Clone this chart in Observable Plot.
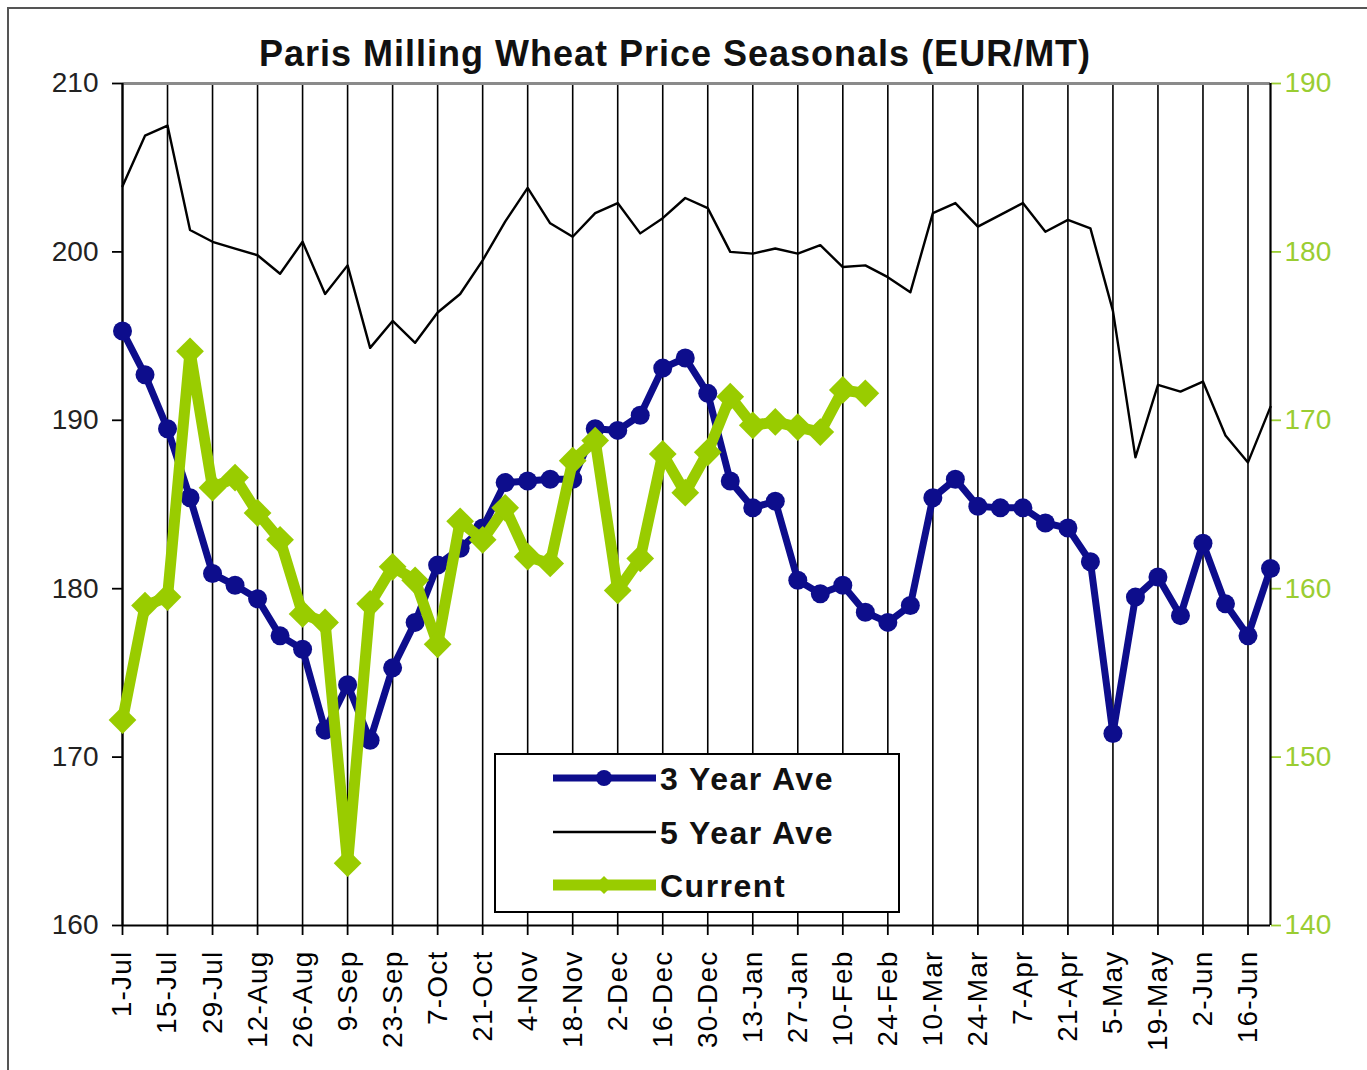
<!DOCTYPE html>
<html><head><meta charset="utf-8">
<script src="https://cdn.jsdelivr.net/npm/d3@7"></script>
<script src="https://cdn.jsdelivr.net/npm/@observablehq/plot@0.6"></script>
<style>
body{margin:0;background:#fff;font-family:"Liberation Sans",Arial,sans-serif;}
#wrap{position:relative;width:1367px;height:1070px;overflow:hidden;background:#fff;}
#frame{position:absolute;left:7px;top:7px;width:1400px;height:1100px;border-top:2px solid #555;border-left:2px solid #555;}
#title{position:absolute;left:0;width:1350px;top:33px;text-align:center;font-weight:bold;font-size:36px;letter-spacing:1px;color:#111;}
#chart{position:absolute;left:0;top:0;}
#legend{position:absolute;left:494px;top:753px;width:402px;height:156px;border:2px solid #000;background:#fff;}
#chart svg g[aria-label="x-axis tick label"] text{letter-spacing:1.2px;}
</style></head><body>
<div id="wrap"><div id="frame"></div><div id="chart"></div><div id="title">Paris Milling Wheat Price Seasonals (EUR/MT)</div><div id="legend"></div></div>
<script>
const weekLabels = ["1-Jul","15-Jul","29-Jul","12-Aug","26-Aug","9-Sep","23-Sep","7-Oct","21-Oct","4-Nov","18-Nov","2-Dec","16-Dec","30-Dec","13-Jan","27-Jan","10-Feb","24-Feb","10-Mar","24-Mar","7-Apr","21-Apr","5-May","19-May","2-Jun","16-Jun"];
const threeYear = [195.3,192.7,189.5,185.4,180.9,180.2,179.4,177.2,176.4,171.6,174.3,171.0,175.3,178.0,181.4,182.4,183.6,186.3,186.4,186.5,186.5,189.5,189.4,190.3,193.1,193.7,191.6,186.4,184.8,185.2,180.5,179.7,180.2,178.6,178.0,179.0,185.4,186.5,184.9,184.8,184.8,183.9,183.6,181.6,171.4,179.5,180.7,178.4,182.7,179.1,177.2,181.2];
const fiveYear = [203.9,206.9,207.5,201.3,200.6,200.2,199.8,198.7,200.6,197.5,199.2,194.3,195.9,194.6,196.4,197.5,199.5,201.8,203.8,201.7,200.9,202.3,202.9,201.1,202.0,203.2,202.6,200.0,199.9,200.2,199.9,200.4,199.1,199.2,198.5,197.6,202.3,202.9,201.5,202.2,202.9,201.2,201.9,201.4,196.5,187.8,192.1,191.7,192.3,189.1,187.5,190.8];
const current = [152.2,159.0,159.5,174.1,166.0,166.6,164.5,162.9,158.5,158.0,143.7,159.1,161.3,160.5,156.7,164.0,162.9,164.8,161.9,161.5,167.6,168.8,159.9,161.8,168.0,165.7,168.1,171.4,169.7,169.9,169.6,169.3,171.8,171.6];
const leftTicks = [160,170,180,190,200,210];
const rightTicks = [140,150,160,170,180,190];
const rightOffset = 20; // right axis = left axis - 20
const seriesNames = ["3 Year Ave","5 Year Ave","Current"];

const navy = "#0d0d8c", lime = "#99cc00", limeText = "#9acd32";
const rows3 = threeYear.map((v,i)=>({i, v}));
const rows5 = fiveYear.map((v,i)=>({i, v}));
const rowsC = current.map((v,i)=>({i, v: v + rightOffset}));
const xTicks = weekLabels.map((_,k)=>k*2);
const lastWeek = threeYear.length - 1;

const plot = Plot.plot({
  width:1367, height:1070,
  marginLeft:122, marginRight:97, marginTop:83, marginBottom:145,
  style:{fontFamily:"'Liberation Sans', Arial, sans-serif", fontSize:"28px", background:"transparent", overflow:"visible", color:"#000"},
  x:{domain:[0,lastWeek], axis:null},
  y:{domain:[leftTicks[0], leftTicks[leftTicks.length-1]], axis:null},
  marks:[
    Plot.gridX(xTicks, {stroke:"#000", strokeOpacity:1, strokeWidth:1.6}),
    Plot.ruleY([210], {stroke:"#8a8a8a", strokeWidth:3}),
    Plot.axisX({ticks:xTicks, tickFormat:d=>weekLabels[d/2], tickRotate:-90, tickSize:10, tickPadding:15, fontSize:28, strokeWidth:1.8, label:null}),
    Plot.axisY({ticks:leftTicks, tickSize:10, tickPadding:14, fontSize:28, strokeWidth:1.8, label:null, fill:"#222"}),
    Plot.axisY({anchor:"right", ticks:rightTicks.map(t=>t+rightOffset), tickFormat:t=>t-rightOffset, tickSize:10, tickPadding:4, fontSize:28, strokeWidth:1.8, label:null, color:limeText}),
    Plot.ruleX([0,lastWeek], {stroke:"#000", strokeWidth:2.2}),
    Plot.ruleY([160], {stroke:"#000", strokeWidth:2.2}),
    Plot.lineY(rows5, {x:"i", y:"v", stroke:"#000", strokeWidth:2.4}),
    Plot.lineY(rows3, {x:"i", y:"v", stroke:navy, strokeWidth:7}),
    Plot.dot(rows3, {x:"i", y:"v", r:9.5, fill:navy}),
    Plot.lineY(rowsC, {x:"i", y:"v", stroke:lime, strokeWidth:11}),
    Plot.dot(rowsC, {x:"i", y:"v", r:12.5, fill:lime, symbol:"diamond2"})
  ]
});
document.getElementById("chart").appendChild(plot);

// legend
const lg = d3.select("#legend").append("svg").attr("width",402).attr("height",156)
  .style("font-family","'Liberation Sans', Arial, sans-serif");
const rowsY = [23, 77, 130];
const swatch = [
  g => { g.append("line").attr("x1",57).attr("x2",160).attr("stroke",navy).attr("stroke-width",7);
         g.append("circle").attr("cx",108).attr("r",8).attr("fill",navy); },
  g => { g.append("line").attr("x1",57).attr("x2",160).attr("stroke","#000").attr("stroke-width",2.4); },
  g => { g.append("line").attr("x1",57).attr("x2",160).attr("stroke",lime).attr("stroke-width",11);
         g.append("path").attr("d","M108,-9L117,0L108,9L99,0Z").attr("fill",lime); }
];
seriesNames.forEach((name,k)=>{
  const g = lg.append("g").attr("transform",`translate(0,${rowsY[k]})`);
  swatch[k](g);
  g.append("text").attr("x",164).attr("y",0).attr("dy","0.36em")
    .attr("font-size",32).attr("font-weight","bold").attr("letter-spacing","1.5px").attr("fill","#111").text(name);
});
</script>
</body></html>
